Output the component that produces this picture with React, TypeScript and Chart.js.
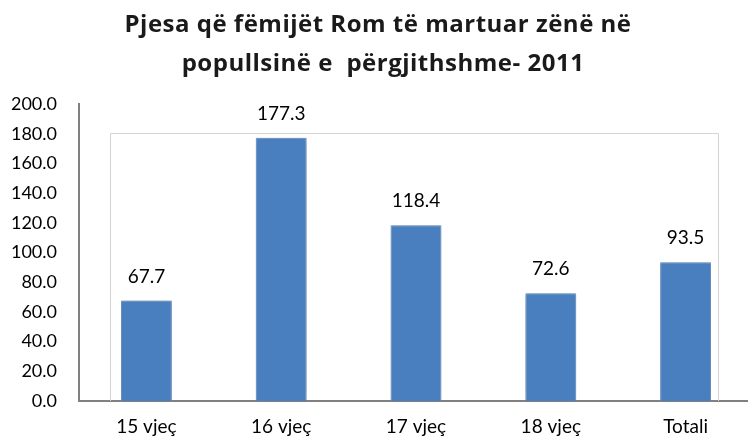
import React, { useEffect, useRef } from "react";
import { Chart, registerables } from "chart.js";

Chart.register(...registerables);

const categories = ["15 vjeç", "16 vjeç", "17 vjeç", "18 vjeç", "Totali"];
const values = [67.7, 177.3, 118.4, 72.6, 93.5];
const titleLines = ["Pjesa që fëmijët Rom të martuar zënë në", "popullsinë e  përgjithshme- 2011"];

const FONT = "Lato, 'Open Sans', sans-serif";
const TITLE_FONT = "'Open Sans', Lato, sans-serif";

const titlePlugin = {
  id: "titleDraw",
  afterDraw(chart: any) {
    const { ctx } = chart;
    ctx.save();
    ctx.fillStyle = "#1a1a1a";
    ctx.font = `bold 24px ${TITLE_FONT}`;
    try {
      (ctx as any).letterSpacing = "0.5px";
    } catch (e) {}
    ctx.textAlign = "center";
    ctx.textBaseline = "alphabetic";
    const cx = 380;
    ctx.fillText(titleLines[0], cx - 2, 32);
    ctx.fillText(titleLines[1], cx + 3, 71);
    ctx.restore();
  },
};

const plotFrame = {
  id: "plotFrame",
  beforeDatasetsDraw(chart: any) {
    const { ctx, chartArea } = chart;
    ctx.save();
    ctx.strokeStyle = "#d4d4d4";
    ctx.lineWidth = 1;
    ctx.beginPath();
    const l = chartArea.left + 31.5;
    const t = chartArea.top + 29.5;
    const r = chartArea.right - 34.5;
    ctx.moveTo(l, chartArea.bottom);
    ctx.lineTo(l, t);
    ctx.lineTo(r, t);
    ctx.lineTo(r, chartArea.bottom);
    ctx.stroke();
    ctx.restore();
    ctx.save();
    ctx.shadowColor = "rgba(0,0,0,0.28)";
    ctx.shadowBlur = 4;
    ctx.shadowOffsetX = 0;
    ctx.shadowOffsetY = 0;
  },
  afterDatasetsDraw(chart: any) {
    const { ctx } = chart;
    ctx.restore();
    ctx.save();
    ctx.fillStyle = "#000";
    ctx.font = `19px ${FONT}`;
    ctx.textAlign = "center";
    ctx.textBaseline = "middle";
    const meta = chart.getDatasetMeta(0);
    meta.data.forEach((bar: any, i: number) => {
      const v = chart.data.datasets[0].data[i] as number;
      ctx.fillText(v.toFixed(1), bar.x, bar.y - 24);
    });
    ctx.restore();
  },
};

export default function App() {
  const ref = useRef<HTMLCanvasElement>(null);
  useEffect(() => {
    if (!ref.current) return;
    const chart = new Chart(ref.current, {
      type: "bar",
      data: {
        labels: categories,
        datasets: [
          {
            data: values,
            backgroundColor: "#4A7FBF",
            borderColor: "#6f9bd0",
            borderWidth: 1,
            barPercentage: 0.378,
            categoryPercentage: 1,
          },
        ],
      },
      options: {
        responsive: false,
        animation: false,
        layout: { padding: { left: 0, right: 7, top: 104, bottom: 3 } },
        plugins: {
          legend: { display: false },
          tooltip: { enabled: false },
          title: { display: false },
        },
        scales: {
          x: {
            offset: true,
            grid: { display: false, drawTicks: false },
            border: { display: true, color: "#808080", width: 2 },
            ticks: { color: "#000", font: { family: FONT, size: 19 }, padding: 14 },
            afterFit: (scale: any) => {
              scale.height = 35;
            },
          },
          y: {
            min: 0,
            max: 200,
            grid: { display: false, drawTicks: false },
            border: { display: true, color: "#808080", width: 2 },
            ticks: {
              stepSize: 20,
              color: "#000",
              font: { family: FONT, size: 18 },
              padding: 22,
              callback: (v: any) => Number(v).toFixed(1),
            },
            afterFit: (scale: any) => {
              scale.width = 79;
            },
          },
        },
      },
      plugins: [plotFrame, titlePlugin],
    });
    return () => chart.destroy();
  }, []);
  return (
    <div style={{ position: "fixed", left: 0, top: 0, width: 748, height: 439, overflow: "hidden", background: "#fff" }}>
      <canvas ref={ref} width={760} height={439} style={{ display: "block" }} />
    </div>
  );
}
